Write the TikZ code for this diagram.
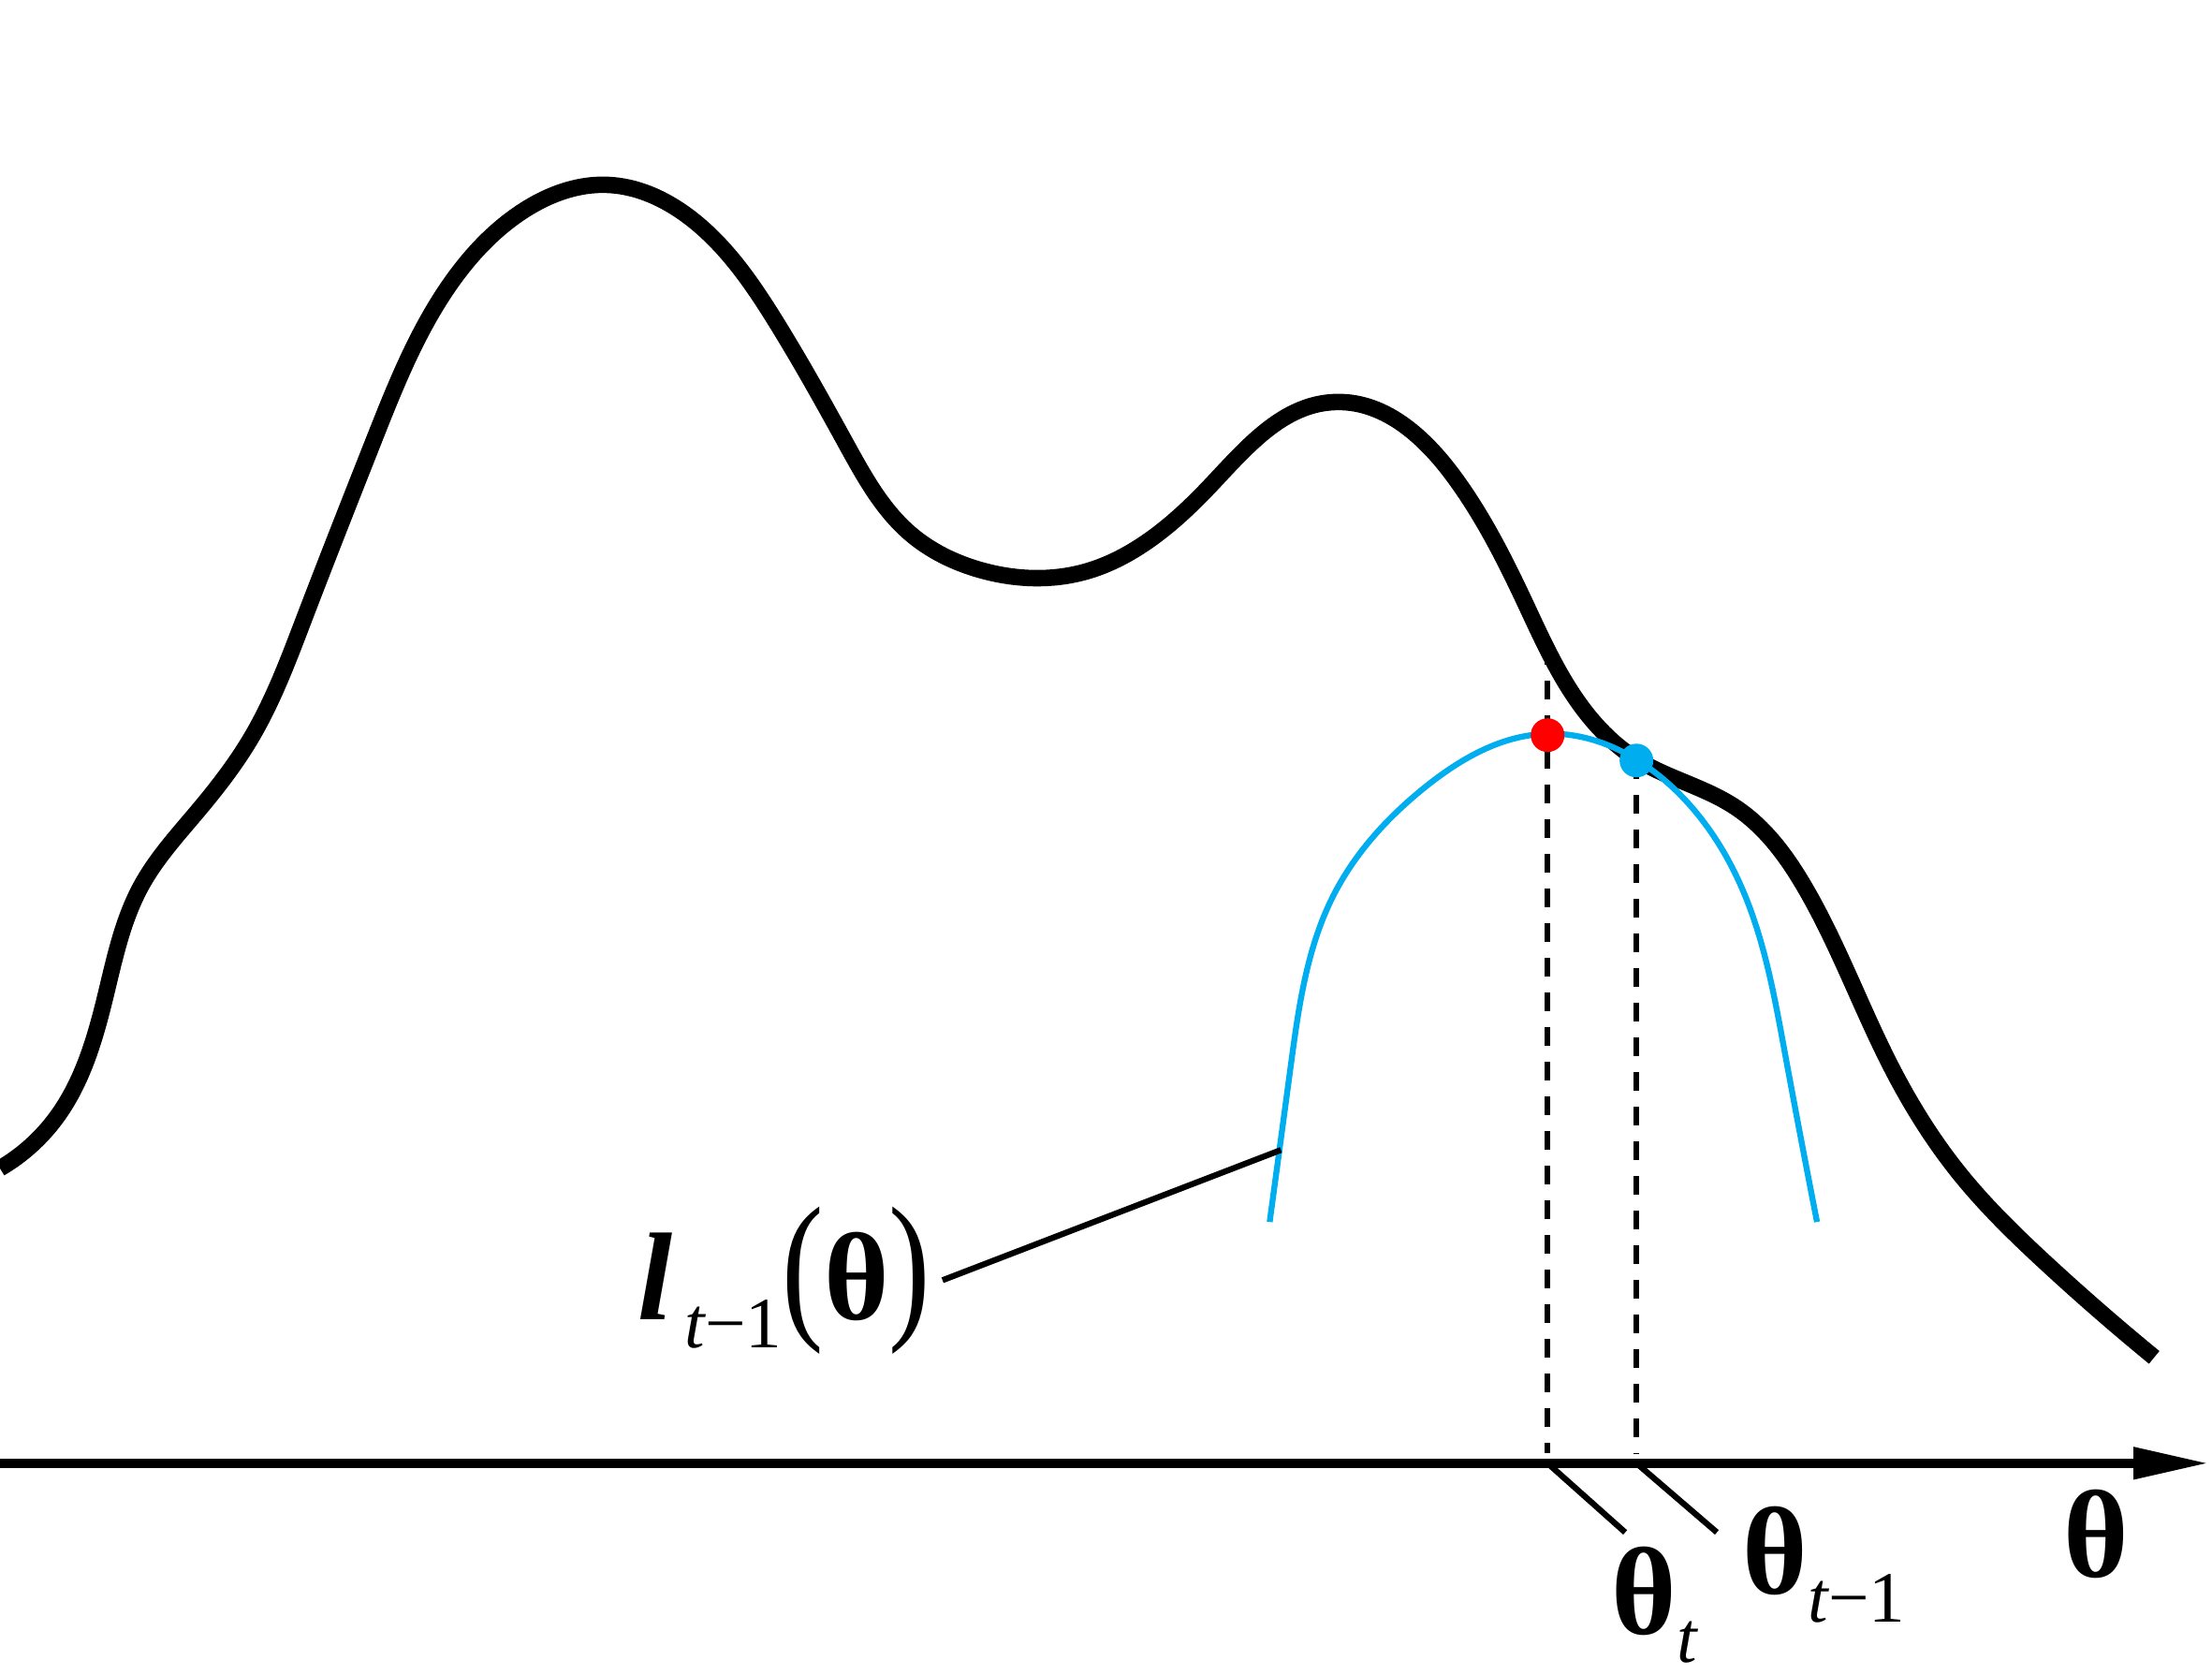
\documentclass[tikz,border=0pt]{standalone}
\usepackage{fontspec}
\setmainfont{Liberation Serif}
\usetikzlibrary{arrows.meta,hobby}
\definecolor{modelblue}{RGB}{0,174,239}
\newcommand{\thsym}{\textbf{θ}}
\newcommand{\lowsub}[1]{\raisebox{-0.3cm}{\fontsize{22}{22}\selectfont #1}}

\begin{document}
\begin{tikzpicture}[x=0.01507cm, y=-0.01507cm,
    lbl/.style={inner sep=0pt, font=\fontsize{38}{40}\selectfont},
    lead/.style={line width=1.8pt},
    guide/.style={line width=1.8pt, dash pattern=on 0.2cm off 0.17cm},
    dot/.style={circle, inner sep=0pt, minimum size=0.36cm},
]
    \useasboundingbox (0,0) rectangle (1568,1187);
    % objective curve
    \draw[line width=5pt, use Hobby shortcut] (0,828) .. (40,792) .. (75,705)
        .. (100,628) .. (140,575) .. (178,523) .. (215,440) .. (265,312)
        .. (320,200) .. (370,150) .. (430,131) .. (490,155) .. (550,228)
        .. (600,315) .. (645,378) .. (695,404) .. (770,405) .. (810,386)
        .. (860,342) .. (945,285) .. (1030,337) .. (1080,425) .. (1125,506)
        .. (1160,538) .. (1230,572) .. (1280,630) .. (1340,755) .. (1390,833)
        .. (1450,895) .. (1527,962);
    % local model
    \draw[modelblue, line width=1.8pt, use Hobby shortcut] (900,866) .. (915,755)
        .. (945,635) .. (1010,558) .. (1097,520) .. (1180,553) .. (1235,630)
        .. (1265,745) .. (1288,866);
    % axis
    \coordinate (o) at (0,1037);
    \coordinate (e) at (1566,1037);
    \draw[line width=3pt, -{Triangle[length=0.81cm, width=0.32cm]}] (o) -- (e);
    \coordinate (curtop) at (1097,458);
    \coordinate (curfoot) at (1097,1030);
    \coordinate (prevfoot) at (1160,1030);
    \coordinate (curtick) at (1097,1037);
    \coordinate (prevtick) at (1160,1037);
    \coordinate (curlead) at (1152,1086);
    \coordinate (prevlead) at (1217,1086);
    \coordinate (lfoot) at (908,815);
    \draw[guide] (curtop) -- (curfoot);
    \draw[guide] (1160,539) -- (prevfoot);
    \node[dot, fill=red] (cur) at (1097,521) {};
    \node[dot, fill=modelblue] (prev) at (1160,539) {};
    \draw[lead] (curtick) -- (curlead);
    \draw[lead] (prevtick) -- (prevlead);
    % labels
    \node[lbl, anchor=base west] (thcur) at (1142,1158) {\thsym\lowsub{\itshape t}};
    \node[lbl, anchor=base west] (thprev) at (1235,1130) {\thsym\lowsub{\itshape t\upshape −1}};
    \node[lbl, anchor=base west] (thaxis) at (1462,1118) {\thsym};
    \node[lbl, anchor=base west] (lmodel) at (452,935)
        {\textbf{\textit{l}}\lowsub{\,\itshape t\upshape −1}\scalebox{1}[1.3]{(}\thsym\scalebox{1}[1.3]{)}};
    \draw[lead] ([xshift=0.12cm]lmodel.east) -- (lfoot);
\end{tikzpicture}
\end{document}
